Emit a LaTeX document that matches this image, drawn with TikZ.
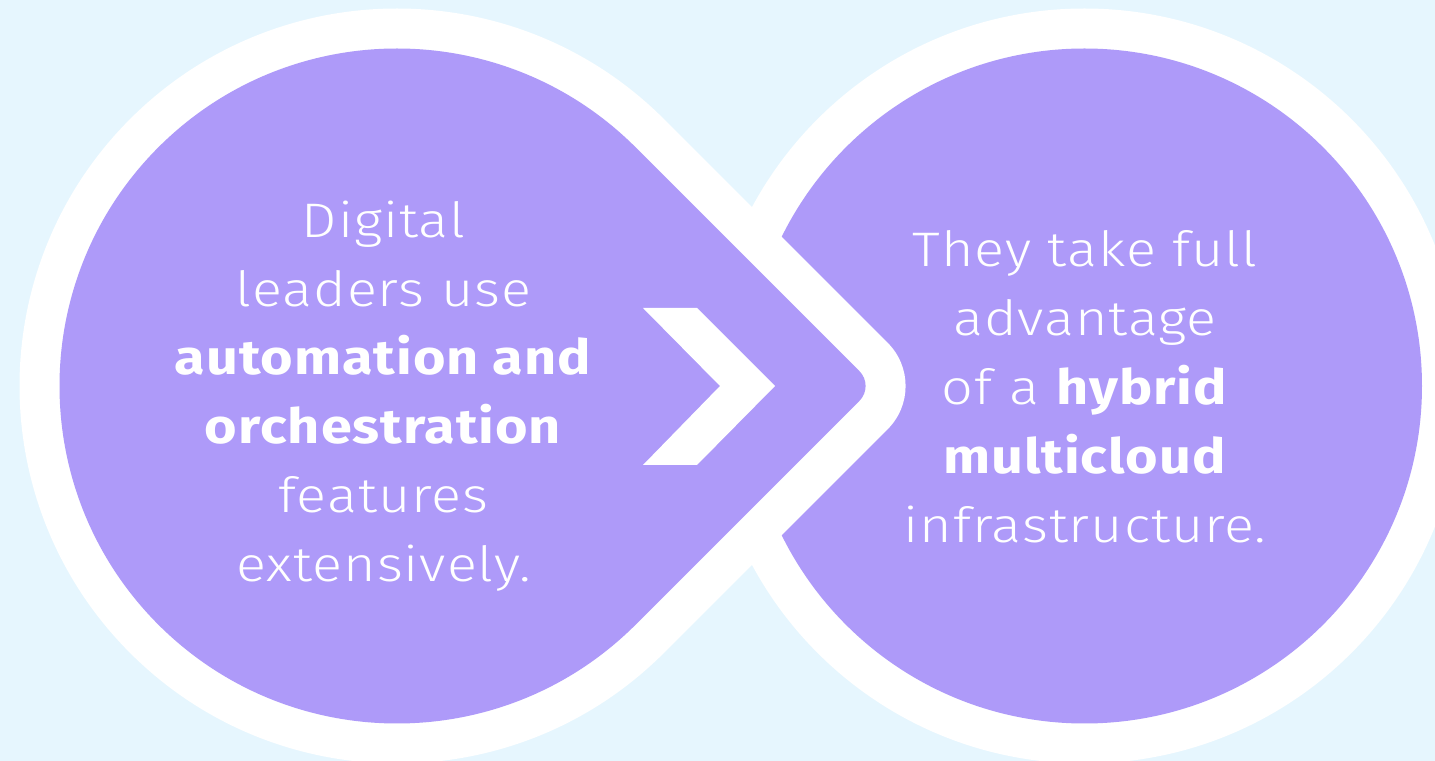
\documentclass[tikz,border=0pt]{standalone}
\usepackage{fontspec}
\setmainfont{Fira Sans}[UprightFont=* Light, BoldFont=* Bold, FakeStretch=1.15, LetterSpace=2]
\usepackage{xcolor}
\definecolor{skyback}{HTML}{E6F6FE}
\definecolor{lilac}{HTML}{AE9AF9}

\begin{document}
\begin{tikzpicture}[x=0.1mm, y=0.1mm,
    blurb/.style={white, align=center, inner sep=0pt, font=\fontsize{13.8}{19.6}\selectfont}]
    \fill[skyback] (0,0) rectangle (1435,761);
    \useasboundingbox (0,0) rectangle (1435,761);

    \coordinate (lc) at (397,375);
    \coordinate (tc) at (844.6,375);
    \coordinate (rc) at (1084.5,375);

    % right circle with its white ring
    \fill[white] (rc) circle (377.5);
    \fill[lilac] (rc) circle (337.5);

    % left drop, white outline first then purple
    \fill[white] ([shift={(45:377.5)}]lc) -- ([shift={(45:61)}]tc)
        arc[start angle=45, end angle=-45, radius=61]
        -- ([shift={(-45:377.5)}]lc) arc[start angle=-45, end angle=-315, radius=377.5] -- cycle;
    \fill[lilac] ([shift={(45:337.5)}]lc) -- ([shift={(45:21)}]tc)
        arc[start angle=45, end angle=-45, radius=21]
        -- ([shift={(-45:337.5)}]lc) arc[start angle=-45, end angle=-315, radius=337.5] -- cycle;

    % chevron
    \fill[white] (643,453) -- (697,453) -- (775,375) -- (697,296) -- (643,296) -- (720,375) -- cycle;

    \node[blurb, anchor=north] (lefttext) at (383.5,561) {Digital\\leaders use\\\textbf{automation and}\\\textbf{orchestration}\\features\\extensively.};
    \node[blurb, anchor=north] (righttext) at (1085,531) {They take full\\advantage\\of a \textbf{hybrid}\\\textbf{multicloud}\\infrastructure.};
\end{tikzpicture}
\end{document}
